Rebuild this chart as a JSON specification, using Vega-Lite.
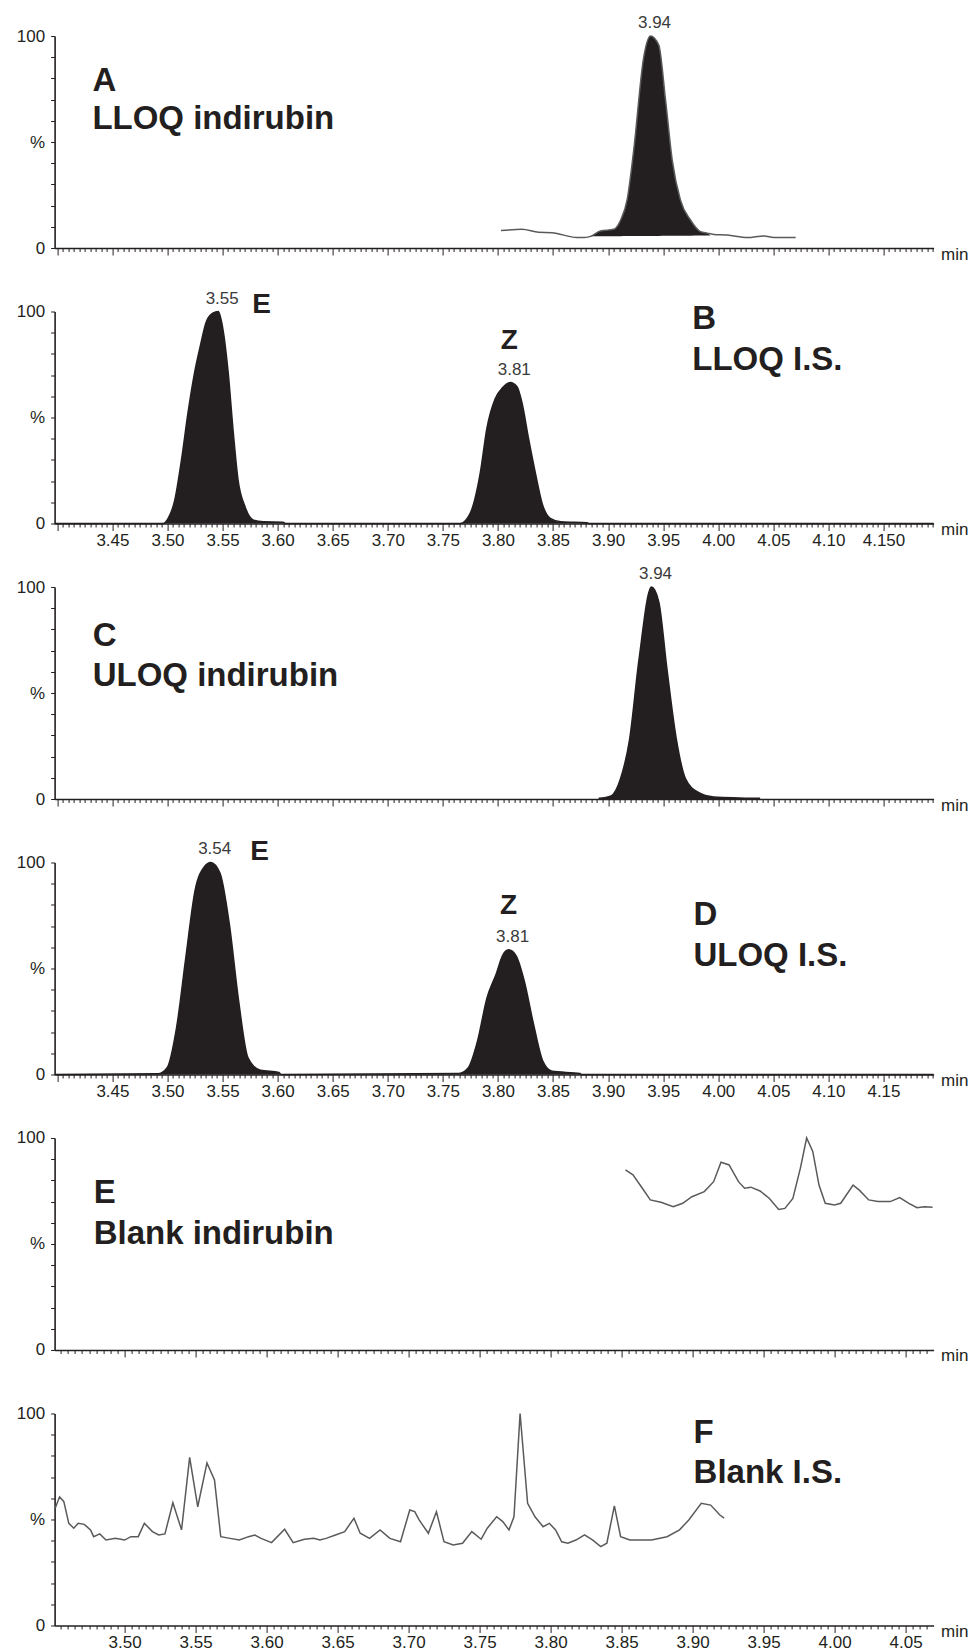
{
  "$schema": "https://vega.github.io/schema/vega-lite/v6.json",
  "padding": {"top": 14, "left": 15.6, "right": 2, "bottom": 2},
  "bounds": "flush",
  "spacing": 63.5,
  "config": {
    "font": "Liberation Sans",
    "view": {"stroke": null},
    "axis": {
      "grid": false,
      "domainColor": "#231f20",
      "domainWidth": 1.6,
      "tickColor": "#231f20",
      "tickWidth": 1,
      "labelColor": "#231f20",
      "labelFont": "Liberation Sans",
      "labelFontSize": 17,
      "titleFont": "Liberation Sans",
      "titleColor": "#231f20"
    }
  },
  "datasets": {
    "trace": [
      {"panel": "A", "t": 3.8027, "v": 8.2}, {"panel": "A", "t": 3.8218, "v": 8.8}, {"panel": "A", "t": 3.8369, "v": 7.4},
      {"panel": "A", "t": 3.8491, "v": 7.2}, {"panel": "A", "t": 3.8718, "v": 4.9}, {"panel": "A", "t": 3.8778, "v": 4.9},
      {"panel": "A", "t": 3.884, "v": 5.5}, {"panel": "A", "t": 3.893, "v": 8.0}, {"panel": "A", "t": 3.9051, "v": 8.8},
      {"panel": "A", "t": 3.9112, "v": 13}, {"panel": "A", "t": 3.9173, "v": 22.8}, {"panel": "A", "t": 3.9233, "v": 46.3},
      {"panel": "A", "t": 3.9324, "v": 90.2}, {"panel": "A", "t": 3.9385, "v": 100}, {"panel": "A", "t": 3.946, "v": 95.7},
      {"panel": "A", "t": 3.9521, "v": 70}, {"panel": "A", "t": 3.9582, "v": 41.5}, {"panel": "A", "t": 3.9657, "v": 22.6},
      {"panel": "A", "t": 3.9748, "v": 13.2}, {"panel": "A", "t": 3.9839, "v": 7.7}, {"panel": "A", "t": 3.99, "v": 7.0},
      {"panel": "A", "t": 3.996, "v": 6.4}, {"panel": "A", "t": 4.0082, "v": 6.1}, {"panel": "A", "t": 4.0264, "v": 4.9},
      {"panel": "A", "t": 4.0415, "v": 5.7}, {"panel": "A", "t": 4.0505, "v": 5.0}, {"panel": "A", "t": 4.0703, "v": 4.9},

      {"panel": "B", "t": 3.3975, "v": 0}, {"panel": "B", "t": 3.496, "v": 0}, {"panel": "B", "t": 3.5006, "v": 2.4},
      {"panel": "B", "t": 3.5066, "v": 11}, {"panel": "B", "t": 3.5127, "v": 30}, {"panel": "B", "t": 3.5187, "v": 52.5},
      {"panel": "B", "t": 3.5248, "v": 71.7}, {"panel": "B", "t": 3.5294, "v": 82.8}, {"panel": "B", "t": 3.5355, "v": 95.5},
      {"panel": "B", "t": 3.5415, "v": 99.3}, {"panel": "B", "t": 3.546, "v": 100}, {"panel": "B", "t": 3.5506, "v": 90.8},
      {"panel": "B", "t": 3.555, "v": 71.7}, {"panel": "B", "t": 3.5597, "v": 43}, {"panel": "B", "t": 3.564, "v": 20.7},
      {"panel": "B", "t": 3.5703, "v": 8}, {"panel": "B", "t": 3.578, "v": 1.6}, {"panel": "B", "t": 3.587, "v": 0.8},
      {"panel": "B", "t": 3.605, "v": 0.6}, {"panel": "B", "t": 3.607, "v": 0}, {"panel": "B", "t": 3.7657, "v": 0},
      {"panel": "B", "t": 3.7748, "v": 4.8}, {"panel": "B", "t": 3.784, "v": 24}, {"panel": "B", "t": 3.79, "v": 45},
      {"panel": "B", "t": 3.7976, "v": 59}, {"panel": "B", "t": 3.8041, "v": 64}, {"panel": "B", "t": 3.8112, "v": 66.5},
      {"panel": "B", "t": 3.8173, "v": 64.5}, {"panel": "B", "t": 3.8218, "v": 57}, {"panel": "B", "t": 3.8278, "v": 40},
      {"panel": "B", "t": 3.8339, "v": 24}, {"panel": "B", "t": 3.84, "v": 9.6}, {"panel": "B", "t": 3.8475, "v": 2.4},
      {"panel": "B", "t": 3.857, "v": 0.8}, {"panel": "B", "t": 3.881, "v": 0.3}, {"panel": "B", "t": 3.883, "v": 0},
      {"panel": "B", "t": 4.1955, "v": 0},

      {"panel": "C", "t": 3.8915, "v": 0.3}, {"panel": "C", "t": 3.9027, "v": 1.5}, {"panel": "C", "t": 3.9112, "v": 9.5},
      {"panel": "C", "t": 3.9196, "v": 28.4}, {"panel": "C", "t": 3.9281, "v": 66}, {"panel": "C", "t": 3.9394, "v": 100},
      {"panel": "C", "t": 3.946, "v": 93}, {"panel": "C", "t": 3.9534, "v": 61.4}, {"panel": "C", "t": 3.9619, "v": 28.4},
      {"panel": "C", "t": 3.9703, "v": 9.5}, {"panel": "C", "t": 3.9816, "v": 3.2}, {"panel": "C", "t": 3.9957, "v": 1.0},
      {"panel": "C", "t": 4.038, "v": 0.3},

      {"panel": "D", "t": 3.3975, "v": 0}, {"panel": "D", "t": 3.4913, "v": 0.3}, {"panel": "D", "t": 3.4997, "v": 3.2},
      {"panel": "D", "t": 3.5082, "v": 22}, {"panel": "D", "t": 3.5166, "v": 55}, {"panel": "D", "t": 3.5251, "v": 87},
      {"panel": "D", "t": 3.5335, "v": 98}, {"panel": "D", "t": 3.5392, "v": 100}, {"panel": "D", "t": 3.5476, "v": 95},
      {"panel": "D", "t": 3.5561, "v": 71}, {"panel": "D", "t": 3.5645, "v": 35}, {"panel": "D", "t": 3.573, "v": 8},
      {"panel": "D", "t": 3.5843, "v": 2}, {"panel": "D", "t": 3.6012, "v": 1}, {"panel": "D", "t": 3.603, "v": 0},
      {"panel": "D", "t": 3.7646, "v": 0.5}, {"panel": "D", "t": 3.7731, "v": 3.2}, {"panel": "D", "t": 3.7815, "v": 15.8},
      {"panel": "D", "t": 3.79, "v": 36}, {"panel": "D", "t": 3.7985, "v": 47.5}, {"panel": "D", "t": 3.8041, "v": 56},
      {"panel": "D", "t": 3.8097, "v": 58.8}, {"panel": "D", "t": 3.8165, "v": 56}, {"panel": "D", "t": 3.8238, "v": 44.3},
      {"panel": "D", "t": 3.8323, "v": 23.7}, {"panel": "D", "t": 3.8407, "v": 6.3}, {"panel": "D", "t": 3.8492, "v": 1.5},
      {"panel": "D", "t": 3.8745, "v": 0.5}, {"panel": "D", "t": 3.876, "v": 0}, {"panel": "D", "t": 4.1955, "v": 0},

      {"panel": "E", "t": 3.8527, "v": 85}, {"panel": "E", "t": 3.858, "v": 82.6}, {"panel": "E", "t": 3.8646, "v": 76.3},
      {"panel": "E", "t": 3.8702, "v": 70.8}, {"panel": "E", "t": 3.8777, "v": 69.7}, {"panel": "E", "t": 3.8864, "v": 67.6},
      {"panel": "E", "t": 3.893, "v": 69.2}, {"panel": "E", "t": 3.8995, "v": 72.3}, {"panel": "E", "t": 3.9082, "v": 74.7},
      {"panel": "E", "t": 3.9148, "v": 79.4}, {"panel": "E", "t": 3.92, "v": 88.6}, {"panel": "E", "t": 3.9257, "v": 87.3},
      {"panel": "E", "t": 3.9323, "v": 79.4}, {"panel": "E", "t": 3.9366, "v": 76.3}, {"panel": "E", "t": 3.941, "v": 76.8},
      {"panel": "E", "t": 3.9475, "v": 75}, {"panel": "E", "t": 3.9541, "v": 71.5}, {"panel": "E", "t": 3.9606, "v": 66.3},
      {"panel": "E", "t": 3.965, "v": 66.8}, {"panel": "E", "t": 3.9706, "v": 71.5}, {"panel": "E", "t": 3.9759, "v": 85.8},
      {"panel": "E", "t": 3.9803, "v": 100}, {"panel": "E", "t": 3.9846, "v": 93.7}, {"panel": "E", "t": 3.989, "v": 77.8},
      {"panel": "E", "t": 3.9934, "v": 69.2}, {"panel": "E", "t": 3.9999, "v": 68.4}, {"panel": "E", "t": 4.0043, "v": 69.2},
      {"panel": "E", "t": 4.013, "v": 77.8}, {"panel": "E", "t": 4.0174, "v": 75.4}, {"panel": "E", "t": 4.024, "v": 70.8},
      {"panel": "E", "t": 4.0305, "v": 70}, {"panel": "E", "t": 4.0392, "v": 70}, {"panel": "E", "t": 4.0458, "v": 71.9},
      {"panel": "E", "t": 4.0523, "v": 69.2}, {"panel": "E", "t": 4.058, "v": 67.1}, {"panel": "E", "t": 4.0632, "v": 67.6},
      {"panel": "E", "t": 4.069, "v": 67.3},

      {"panel": "F", "t": 3.4511, "v": 55.3}, {"panel": "F", "t": 3.4542, "v": 60.7}, {"panel": "F", "t": 3.4572, "v": 58.4},
      {"panel": "F", "t": 3.4607, "v": 48.2}, {"panel": "F", "t": 3.4642, "v": 45.9}, {"panel": "F", "t": 3.4673, "v": 48.2},
      {"panel": "F", "t": 3.4716, "v": 47.7}, {"panel": "F", "t": 3.476, "v": 45.1}, {"panel": "F", "t": 3.4782, "v": 41.9},
      {"panel": "F", "t": 3.4825, "v": 43.2}, {"panel": "F", "t": 3.4869, "v": 40.3}, {"panel": "F", "t": 3.4935, "v": 41.1},
      {"panel": "F", "t": 3.5, "v": 40.3}, {"panel": "F", "t": 3.5044, "v": 41.9}, {"panel": "F", "t": 3.5096, "v": 41.9},
      {"panel": "F", "t": 3.5139, "v": 48.2}, {"panel": "F", "t": 3.5196, "v": 44.3}, {"panel": "F", "t": 3.524, "v": 42.7},
      {"panel": "F", "t": 3.5284, "v": 43.2}, {"panel": "F", "t": 3.534, "v": 57.9}, {"panel": "F", "t": 3.5401, "v": 45.1},
      {"panel": "F", "t": 3.5458, "v": 79.3}, {"panel": "F", "t": 3.5515, "v": 56}, {"panel": "F", "t": 3.558, "v": 76.7},
      {"panel": "F", "t": 3.5633, "v": 68.6}, {"panel": "F", "t": 3.5677, "v": 41.9}, {"panel": "F", "t": 3.5742, "v": 41.1},
      {"panel": "F", "t": 3.5808, "v": 40.3}, {"panel": "F", "t": 3.5873, "v": 41.9}, {"panel": "F", "t": 3.5917, "v": 42.7},
      {"panel": "F", "t": 3.5961, "v": 41.1}, {"panel": "F", "t": 3.6035, "v": 39.1}, {"panel": "F", "t": 3.6127, "v": 45.4},
      {"panel": "F", "t": 3.6187, "v": 39.1}, {"panel": "F", "t": 3.6266, "v": 40.7}, {"panel": "F", "t": 3.6332, "v": 41.1},
      {"panel": "F", "t": 3.6375, "v": 40.3}, {"panel": "F", "t": 3.6419, "v": 41.1}, {"panel": "F", "t": 3.6485, "v": 42.7},
      {"panel": "F", "t": 3.655, "v": 44.3}, {"panel": "F", "t": 3.6615, "v": 50.6}, {"panel": "F", "t": 3.6659, "v": 43.5},
      {"panel": "F", "t": 3.6725, "v": 41.1}, {"panel": "F", "t": 3.6799, "v": 45.1}, {"panel": "F", "t": 3.6868, "v": 41.1},
      {"panel": "F", "t": 3.6943, "v": 39.5}, {"panel": "F", "t": 3.7008, "v": 54.5}, {"panel": "F", "t": 3.7043, "v": 53.7},
      {"panel": "F", "t": 3.7074, "v": 49.8}, {"panel": "F", "t": 3.7139, "v": 43.5}, {"panel": "F", "t": 3.7196, "v": 53.7},
      {"panel": "F", "t": 3.7249, "v": 39.5}, {"panel": "F", "t": 3.7314, "v": 38}, {"panel": "F", "t": 3.738, "v": 38.8},
      {"panel": "F", "t": 3.7445, "v": 44.3}, {"panel": "F", "t": 3.7511, "v": 40.7}, {"panel": "F", "t": 3.7554, "v": 45.9},
      {"panel": "F", "t": 3.762, "v": 51.3}, {"panel": "F", "t": 3.7663, "v": 49}, {"panel": "F", "t": 3.7707, "v": 45.1},
      {"panel": "F", "t": 3.7742, "v": 51.3}, {"panel": "F", "t": 3.7785, "v": 100}, {"panel": "F", "t": 3.7838, "v": 57.6},
      {"panel": "F", "t": 3.789, "v": 51.3}, {"panel": "F", "t": 3.7947, "v": 46.6}, {"panel": "F", "t": 3.7991, "v": 48.2},
      {"panel": "F", "t": 3.8035, "v": 45.1}, {"panel": "F", "t": 3.8078, "v": 39.5}, {"panel": "F", "t": 3.8122, "v": 38.8},
      {"panel": "F", "t": 3.8178, "v": 40.3}, {"panel": "F", "t": 3.8239, "v": 42.7}, {"panel": "F", "t": 3.8297, "v": 40.3},
      {"panel": "F", "t": 3.8353, "v": 37.2}, {"panel": "F", "t": 3.8396, "v": 38.8}, {"panel": "F", "t": 3.8449, "v": 56.4},
      {"panel": "F", "t": 3.8493, "v": 41.9}, {"panel": "F", "t": 3.8558, "v": 40.3}, {"panel": "F", "t": 3.8711, "v": 40.3},
      {"panel": "F", "t": 3.882, "v": 41.9}, {"panel": "F", "t": 3.8908, "v": 45.1}, {"panel": "F", "t": 3.8973, "v": 49.8},
      {"panel": "F", "t": 3.9061, "v": 57.6}, {"panel": "F", "t": 3.9127, "v": 56.8}, {"panel": "F", "t": 3.9192, "v": 52.1},
      {"panel": "F", "t": 3.9222, "v": 50.6}
    ],
    "fillA": [
      {"t": 3.884, "v": 5.5, "base": 5.5}, {"t": 3.893, "v": 8.0, "base": 5.6}, {"t": 3.9051, "v": 8.8, "base": 5.6},
      {"t": 3.9112, "v": 13, "base": 5.6}, {"t": 3.9173, "v": 22.8, "base": 5.7}, {"t": 3.9233, "v": 46.3, "base": 5.7},
      {"t": 3.9324, "v": 90.2, "base": 5.7}, {"t": 3.9385, "v": 100, "base": 5.7}, {"t": 3.946, "v": 95.7, "base": 5.7},
      {"t": 3.9521, "v": 70, "base": 5.8}, {"t": 3.9582, "v": 41.5, "base": 5.8}, {"t": 3.9657, "v": 22.6, "base": 5.8},
      {"t": 3.9748, "v": 13.2, "base": 5.8}, {"t": 3.9839, "v": 7.7, "base": 5.9}, {"t": 3.99, "v": 7.0, "base": 5.9},
      {"t": 3.993, "v": 5.9, "base": 5.9}
    ],
    "notes": [
      {"panel": "A", "kind": "rt", "t": 3.9385, "v": 100, "label": "3.94"},
      {"panel": "A", "kind": "title", "t": 3.4318, "v": 74.2, "label": "A"},
      {"panel": "A", "kind": "title", "t": 3.4318, "v": 56.1, "label": "LLOQ indirubin"},
      {"panel": "B", "kind": "rt", "t": 3.546, "v": 100, "label": "3.55"},
      {"panel": "B", "kind": "rt", "t": 3.8112, "v": 66.5, "label": "3.81"},
      {"panel": "B", "kind": "peak", "t": 3.5855, "v": 99.2, "label": "E"},
      {"panel": "B", "kind": "peak", "t": 3.8103, "v": 82.5, "label": "Z"},
      {"panel": "B", "kind": "title", "t": 3.9764, "v": 91.6, "label": "B"},
      {"panel": "B", "kind": "title", "t": 3.9764, "v": 72.5, "label": "LLOQ I.S."},
      {"panel": "C", "kind": "rt", "t": 3.9394, "v": 100, "label": "3.94"},
      {"panel": "C", "kind": "title", "t": 3.4321, "v": 72.1, "label": "C"},
      {"panel": "C", "kind": "title", "t": 3.4321, "v": 53.5, "label": "ULOQ indirubin"},
      {"panel": "D", "kind": "rt", "t": 3.5392, "v": 100, "label": "3.54"},
      {"panel": "D", "kind": "rt", "t": 3.8097, "v": 58.8, "label": "3.81"},
      {"panel": "D", "kind": "peak", "t": 3.5835, "v": 101, "label": "E"},
      {"panel": "D", "kind": "peak", "t": 3.8097, "v": 75.6, "label": "Z"},
      {"panel": "D", "kind": "title", "t": 3.9775, "v": 70.4, "label": "D"},
      {"panel": "D", "kind": "title", "t": 3.9775, "v": 51.4, "label": "ULOQ I.S."},
      {"panel": "E", "kind": "title", "t": 3.4782, "v": 69.2, "label": "E"},
      {"panel": "E", "kind": "title", "t": 3.4782, "v": 50.2, "label": "Blank indirubin"},
      {"panel": "F", "kind": "title", "t": 3.9007, "v": 85.9, "label": "F"},
      {"panel": "F", "kind": "title", "t": 3.9007, "v": 67, "label": "Blank I.S."}
    ]
  },
  "vconcat": [
    {
      "width": 879, "height": 212,
      "encoding": {
        "x": {"field": "t", "type": "quantitative", "scale": {"domain": [3.3975, 4.1955], "nice": false, "zero": false},
          "axis": {"title": "min", "titleX": 886, "titleY": 11, "titleAlign": "left", "titleBaseline": "alphabetic", "titleAnchor": "start", "titleFontWeight": "normal", "titleFontSize": 17,
            "tickCount": 160, "labels": false,
            "tickSize": {"condition": {"test": "abs(datum.value * 20 - round(datum.value * 20)) < 0.001", "value": 7}, "value": 3.5}}},
        "y": {"field": "v", "type": "quantitative", "scale": {"domain": [0, 100], "nice": false},
          "axis": {"title": null, "values": [0, 10, 20, 30, 40, 50, 60, 70, 80, 90, 100], "tickSize": 4, "labelPadding": 6,
            "labelExpr": "datum.value == 100 ? '100' : datum.value == 50 ? '%' : datum.value == 0 ? '0' : ''"}}
      },
      "layer": [
        {"data": {"name": "fillA"}, "mark": {"type": "area", "color": "#231f20", "interpolate": "monotone"}, "encoding": {"y2": {"field": "base"}}},
        {"data": {"name": "trace"}, "transform": [{"filter": "datum.panel == 'A'"}], "mark": {"type": "line", "color": "#5a5a5a", "strokeWidth": 1.5, "interpolate": "monotone"}},
        {"data": {"name": "notes"}, "transform": [{"filter": "datum.panel == 'A' && datum.kind == 'rt'"}],
          "mark": {"type": "text", "fontSize": 17, "color": "#3a3a3a", "baseline": "alphabetic", "align": "center", "dy": -8, "dx": 4},
          "encoding": {"text": {"field": "label"}}},
        {"data": {"name": "notes"}, "transform": [{"filter": "datum.panel == 'A' && datum.kind == 'title'"}],
          "mark": {"type": "text", "fontSize": 33, "fontWeight": "bold", "color": "#231f20", "baseline": "alphabetic", "align": "left"},
          "encoding": {"text": {"field": "label"}}}
      ]
    },
    {
      "width": 879, "height": 212,
      "encoding": {
        "x": {"field": "t", "type": "quantitative", "scale": {"domain": [3.3975, 4.1955], "nice": false, "zero": false},
          "axis": {"title": "min", "titleX": 886, "titleY": 11, "titleAlign": "left", "titleBaseline": "alphabetic", "titleAnchor": "start", "titleFontWeight": "normal", "titleFontSize": 17,
            "tickCount": 160, "labelOverlap": false, "labelFlush": false, "labelPadding": 2,
            "labelExpr": "datum.value > 3.42 && abs(datum.value * 20 - round(datum.value * 20)) < 0.001 ? (datum.value > 4.14 ? '4.150' : format(datum.value, '.2f')) : ''",
            "tickSize": {"condition": {"test": "abs(datum.value * 20 - round(datum.value * 20)) < 0.001", "value": 7}, "value": 3.5}}},
        "y": {"field": "v", "type": "quantitative", "scale": {"domain": [0, 100], "nice": false},
          "axis": {"title": null, "values": [0, 10, 20, 30, 40, 50, 60, 70, 80, 90, 100], "tickSize": 4, "labelPadding": 6,
            "labelExpr": "datum.value == 100 ? '100' : datum.value == 50 ? '%' : datum.value == 0 ? '0' : ''"}}
      },
      "layer": [
        {"data": {"name": "trace"}, "transform": [{"filter": "datum.panel == 'B'"}], "mark": {"type": "area", "color": "#231f20", "interpolate": "monotone"}},
        {"data": {"name": "trace"}, "transform": [{"filter": "datum.panel == 'B'"}], "mark": {"type": "line", "color": "#231f20", "strokeWidth": 1.5, "interpolate": "monotone"}},
        {"data": {"name": "notes"}, "transform": [{"filter": "datum.panel == 'B' && datum.kind == 'rt'"}],
          "mark": {"type": "text", "fontSize": 17, "color": "#3a3a3a", "baseline": "alphabetic", "align": "center", "dy": -8, "dx": 4},
          "encoding": {"text": {"field": "label"}}},
        {"data": {"name": "notes"}, "transform": [{"filter": "datum.panel == 'B' && datum.kind == 'peak'"}],
          "mark": {"type": "text", "fontSize": 28, "fontWeight": "bold", "color": "#231f20", "baseline": "alphabetic", "align": "center"},
          "encoding": {"text": {"field": "label"}}},
        {"data": {"name": "notes"}, "transform": [{"filter": "datum.panel == 'B' && datum.kind == 'title'"}],
          "mark": {"type": "text", "fontSize": 33, "fontWeight": "bold", "color": "#231f20", "baseline": "alphabetic", "align": "left"},
          "encoding": {"text": {"field": "label"}}}
      ]
    },
    {
      "width": 879, "height": 212,
      "encoding": {
        "x": {"field": "t", "type": "quantitative", "scale": {"domain": [3.3975, 4.1955], "nice": false, "zero": false},
          "axis": {"title": "min", "titleX": 886, "titleY": 11, "titleAlign": "left", "titleBaseline": "alphabetic", "titleAnchor": "start", "titleFontWeight": "normal", "titleFontSize": 17,
            "tickCount": 160, "labels": false,
            "tickSize": {"condition": {"test": "abs(datum.value * 20 - round(datum.value * 20)) < 0.001", "value": 7}, "value": 3.5}}},
        "y": {"field": "v", "type": "quantitative", "scale": {"domain": [0, 100], "nice": false},
          "axis": {"title": null, "values": [0, 10, 20, 30, 40, 50, 60, 70, 80, 90, 100], "tickSize": 4, "labelPadding": 6,
            "labelExpr": "datum.value == 100 ? '100' : datum.value == 50 ? '%' : datum.value == 0 ? '0' : ''"}}
      },
      "layer": [
        {"data": {"name": "trace"}, "transform": [{"filter": "datum.panel == 'C'"}], "mark": {"type": "area", "color": "#231f20", "interpolate": "monotone"}},
        {"data": {"name": "trace"}, "transform": [{"filter": "datum.panel == 'C'"}], "mark": {"type": "line", "color": "#231f20", "strokeWidth": 1.5, "interpolate": "monotone"}},
        {"data": {"name": "notes"}, "transform": [{"filter": "datum.panel == 'C' && datum.kind == 'rt'"}],
          "mark": {"type": "text", "fontSize": 17, "color": "#3a3a3a", "baseline": "alphabetic", "align": "center", "dy": -8, "dx": 4},
          "encoding": {"text": {"field": "label"}}},
        {"data": {"name": "notes"}, "transform": [{"filter": "datum.panel == 'C' && datum.kind == 'title'"}],
          "mark": {"type": "text", "fontSize": 33, "fontWeight": "bold", "color": "#231f20", "baseline": "alphabetic", "align": "left"},
          "encoding": {"text": {"field": "label"}}}
      ]
    },
    {
      "width": 879, "height": 212,
      "encoding": {
        "x": {"field": "t", "type": "quantitative", "scale": {"domain": [3.3975, 4.1955], "nice": false, "zero": false},
          "axis": {"title": "min", "titleX": 886, "titleY": 11, "titleAlign": "left", "titleBaseline": "alphabetic", "titleAnchor": "start", "titleFontWeight": "normal", "titleFontSize": 17,
            "tickCount": 160, "labelOverlap": false, "labelFlush": false, "labelPadding": 2,
            "labelExpr": "datum.value > 3.42 && abs(datum.value * 20 - round(datum.value * 20)) < 0.001 ? format(datum.value, '.2f') : ''",
            "tickSize": {"condition": {"test": "abs(datum.value * 20 - round(datum.value * 20)) < 0.001", "value": 7}, "value": 3.5}}},
        "y": {"field": "v", "type": "quantitative", "scale": {"domain": [0, 100], "nice": false},
          "axis": {"title": null, "values": [0, 10, 20, 30, 40, 50, 60, 70, 80, 90, 100], "tickSize": 4, "labelPadding": 6,
            "labelExpr": "datum.value == 100 ? '100' : datum.value == 50 ? '%' : datum.value == 0 ? '0' : ''"}}
      },
      "layer": [
        {"data": {"name": "trace"}, "transform": [{"filter": "datum.panel == 'D'"}], "mark": {"type": "area", "color": "#231f20", "interpolate": "monotone"}},
        {"data": {"name": "trace"}, "transform": [{"filter": "datum.panel == 'D'"}], "mark": {"type": "line", "color": "#231f20", "strokeWidth": 1.5, "interpolate": "monotone"}},
        {"data": {"name": "notes"}, "transform": [{"filter": "datum.panel == 'D' && datum.kind == 'rt'"}],
          "mark": {"type": "text", "fontSize": 17, "color": "#3a3a3a", "baseline": "alphabetic", "align": "center", "dy": -8, "dx": 4},
          "encoding": {"text": {"field": "label"}}},
        {"data": {"name": "notes"}, "transform": [{"filter": "datum.panel == 'D' && datum.kind == 'peak'"}],
          "mark": {"type": "text", "fontSize": 28, "fontWeight": "bold", "color": "#231f20", "baseline": "alphabetic", "align": "center"},
          "encoding": {"text": {"field": "label"}}},
        {"data": {"name": "notes"}, "transform": [{"filter": "datum.panel == 'D' && datum.kind == 'title'"}],
          "mark": {"type": "text", "fontSize": 33, "fontWeight": "bold", "color": "#231f20", "baseline": "alphabetic", "align": "left"},
          "encoding": {"text": {"field": "label"}}}
      ]
    },
    {
      "width": 879, "height": 212,
      "encoding": {
        "x": {"field": "t", "type": "quantitative", "scale": {"domain": [3.4507, 4.0697], "nice": false, "zero": false},
          "axis": {"title": "min", "titleX": 886, "titleY": 11, "titleAlign": "left", "titleBaseline": "alphabetic", "titleAnchor": "start", "titleFontWeight": "normal", "titleFontSize": 17,
            "tickCount": 124, "labels": false,
            "tickSize": {"condition": {"test": "abs(datum.value * 20 - round(datum.value * 20)) < 0.001", "value": 7}, "value": 3.5}}},
        "y": {"field": "v", "type": "quantitative", "scale": {"domain": [0, 100], "nice": false},
          "axis": {"title": null, "values": [0, 10, 20, 30, 40, 50, 60, 70, 80, 90, 100], "tickSize": 4, "labelPadding": 6,
            "labelExpr": "datum.value == 100 ? '100' : datum.value == 50 ? '%' : datum.value == 0 ? '0' : ''"}}
      },
      "layer": [
        {"data": {"name": "trace"}, "transform": [{"filter": "datum.panel == 'E'"}], "mark": {"type": "line", "color": "#5a5a5a", "strokeWidth": 1.5}},
        {"data": {"name": "notes"}, "transform": [{"filter": "datum.panel == 'E' && datum.kind == 'title'"}],
          "mark": {"type": "text", "fontSize": 33, "fontWeight": "bold", "color": "#231f20", "baseline": "alphabetic", "align": "left"},
          "encoding": {"text": {"field": "label"}}}
      ]
    },
    {
      "width": 879, "height": 212,
      "encoding": {
        "x": {"field": "t", "type": "quantitative", "scale": {"domain": [3.4507, 4.0697], "nice": false, "zero": false},
          "axis": {"title": "min", "titleX": 886, "titleY": 11, "titleAlign": "left", "titleBaseline": "alphabetic", "titleAnchor": "start", "titleFontWeight": "normal", "titleFontSize": 17,
            "tickCount": 124, "labelOverlap": false, "labelFlush": false, "labelPadding": 2,
            "labelExpr": "abs(datum.value * 20 - round(datum.value * 20)) < 0.001 ? format(datum.value, '.2f') : ''",
            "tickSize": {"condition": {"test": "abs(datum.value * 20 - round(datum.value * 20)) < 0.001", "value": 7}, "value": 3.5}}},
        "y": {"field": "v", "type": "quantitative", "scale": {"domain": [0, 100], "nice": false},
          "axis": {"title": null, "values": [0, 10, 20, 30, 40, 50, 60, 70, 80, 90, 100], "tickSize": 4, "labelPadding": 6,
            "labelExpr": "datum.value == 100 ? '100' : datum.value == 50 ? '%' : datum.value == 0 ? '0' : ''"}}
      },
      "layer": [
        {"data": {"name": "trace"}, "transform": [{"filter": "datum.panel == 'F'"}], "mark": {"type": "line", "color": "#5a5a5a", "strokeWidth": 1.5}},
        {"data": {"name": "notes"}, "transform": [{"filter": "datum.panel == 'F' && datum.kind == 'title'"}],
          "mark": {"type": "text", "fontSize": 33, "fontWeight": "bold", "color": "#231f20", "baseline": "alphabetic", "align": "left"},
          "encoding": {"text": {"field": "label"}}}
      ]
    }
  ]
}
